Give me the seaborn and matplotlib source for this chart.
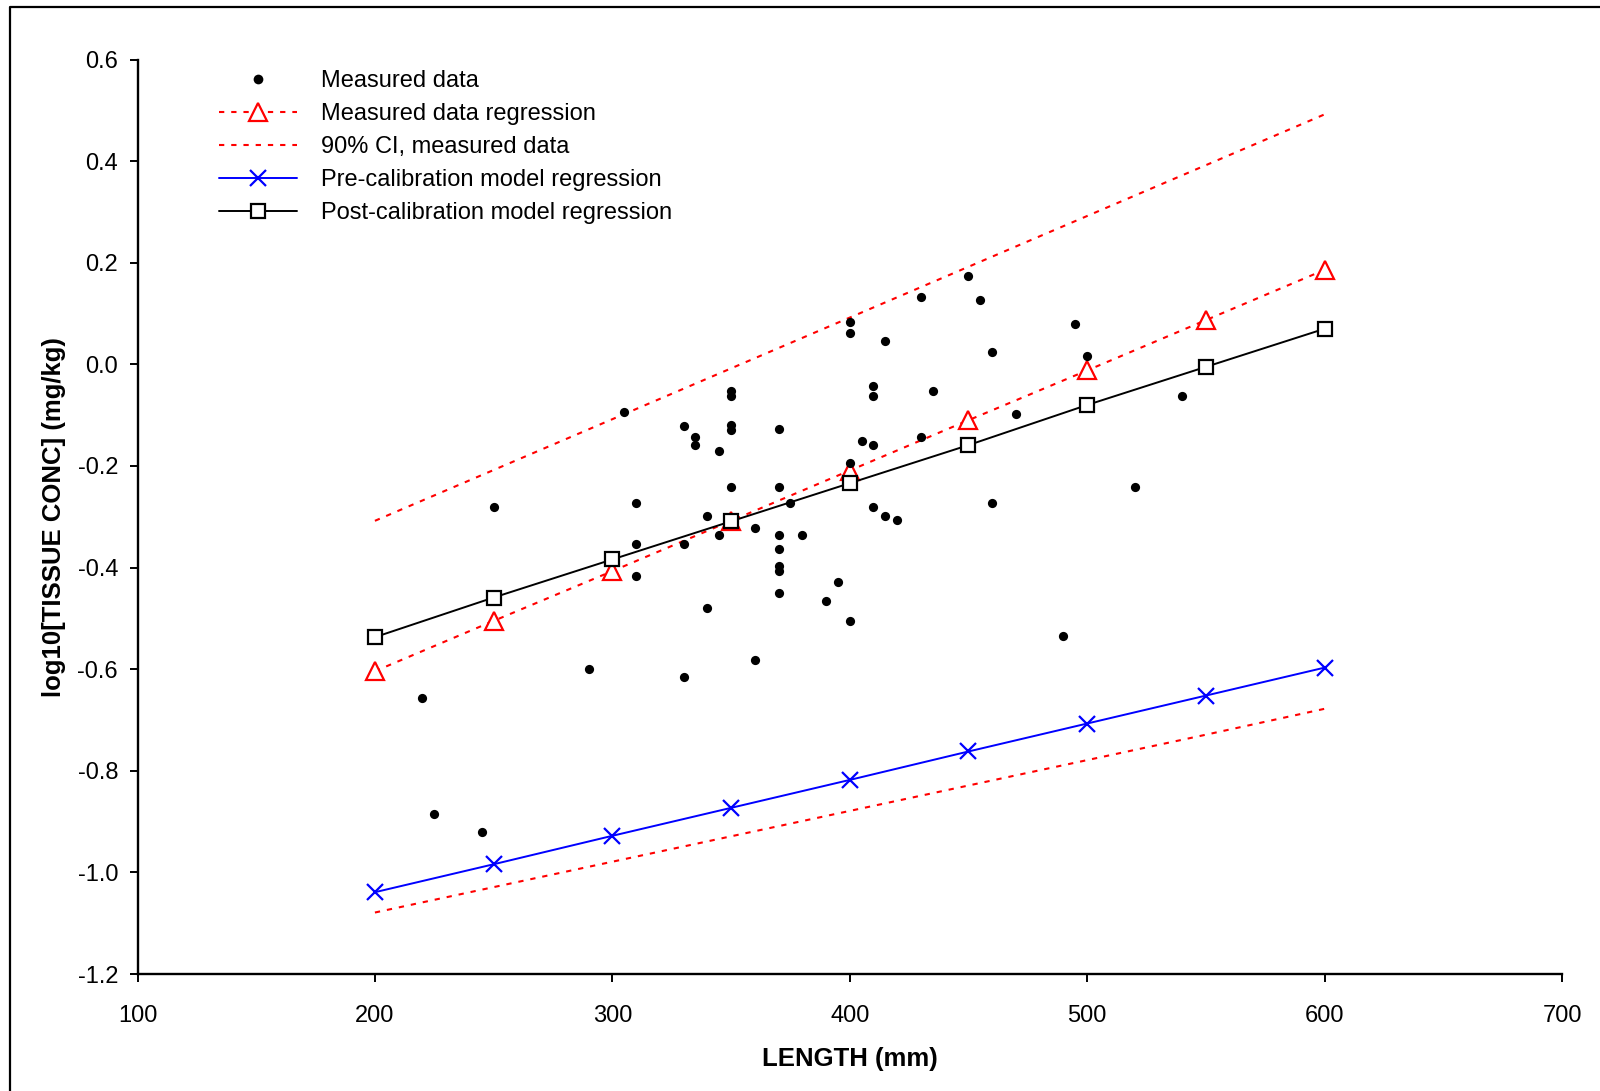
import matplotlib
matplotlib.use("Agg")
import matplotlib.pyplot as plt
from matplotlib.lines import Line2D
import seaborn as sns
import pandas as pd

# ---- data ----
meas_x = [220, 225, 245, 250, 290, 305, 310, 310, 310, 330, 330, 330, 335, 335,
          340, 340, 345, 345, 350, 350, 350, 350, 350, 360, 360, 370, 370, 370,
          370, 370, 370, 370, 375, 380, 390, 395, 400, 400, 400, 400, 405, 410,
          410, 410, 410, 415, 415, 420, 430, 430, 435, 450, 455, 460, 460, 470,
          490, 495, 500, 520, 540]
meas_y = [-0.656, -0.886, -0.920, -0.281, -0.600, -0.094, -0.272, -0.354, -0.417,
          -0.121, -0.354, -0.615, -0.144, -0.158, -0.299, -0.479, -0.171, -0.335,
          -0.052, -0.062, -0.120, -0.129, -0.242, -0.323, -0.581, -0.128, -0.242,
          -0.335, -0.363, -0.396, -0.407, -0.450, -0.272, -0.335, -0.465, -0.429,
          0.084, 0.061, -0.195, -0.505, -0.151, -0.043, -0.062, -0.158, -0.280,
          0.046, -0.299, -0.307, 0.132, -0.144, -0.052, 0.174, 0.127, 0.024,
          -0.272, -0.097, -0.535, 0.079, 0.016, -0.241, -0.062]

reg_x = [200, 250, 300, 350, 400, 450, 500, 550, 600]
meas_reg = [-0.604, -0.505, -0.407, -0.308, -0.209, -0.110, -0.012, 0.087, 0.186]
ci_upper = [-0.308, -0.208, -0.108, -0.008, 0.092, 0.192, 0.292, 0.392, 0.492]
ci_lower = [-1.079, -1.029, -0.979, -0.929, -0.879, -0.829, -0.779, -0.729, -0.678]
pre_cal = [-1.039, -0.984, -0.928, -0.873, -0.818, -0.762, -0.707, -0.652, -0.597]
post_cal = [-0.537, -0.459, -0.384, -0.309, -0.234, -0.159, -0.080, -0.005, 0.070]

x_ticks = [100, 200, 300, 400, 500, 600, 700]
y_ticks = [-1.2, -1.0, -0.8, -0.6, -0.4, -0.2, 0.0, 0.2, 0.4, 0.6]

labels = ["Measured data", "Measured data regression", "90% CI, measured data",
          "Pre-calibration model regression", "Post-calibration model regression"]

# ---- style ----
sns.set_theme(style="white")
plt.rcParams['font.family'] = ['Liberation Sans', 'DejaVu Sans']
plt.rcParams['axes.unicode_minus'] = False
plt.rcParams['lines.scale_dashes'] = False
for k in ['text.color', 'axes.labelcolor', 'xtick.color', 'ytick.color', 'axes.edgecolor']:
    plt.rcParams[k] = 'black'

fig = plt.figure(figsize=(16, 10.91), dpi=100)
ax = fig.add_axes([137.5 / 1600, 1 - 974 / 1091, (1562 - 137.5) / 1600, (974 - 59.5) / 1091])

dash = (0, (3.8, 5.0))
lw = 1.4

df_meas = pd.DataFrame({"x": meas_x, "y": meas_y})
sns.scatterplot(data=df_meas, x="x", y="y", ax=ax, color="black", s=44,
                linewidth=0, zorder=5)

sns.lineplot(x=reg_x, y=ci_upper, ax=ax, color="red", linestyle=dash, lw=1.5, zorder=2)
sns.lineplot(x=reg_x, y=ci_lower, ax=ax, color="red", linestyle=dash, lw=1.5, zorder=2)
sns.lineplot(x=reg_x, y=meas_reg, ax=ax, color="red", linestyle=dash, lw=1.5,
             marker="^", markersize=12.5, markerfacecolor="white",
             markeredgecolor="red", markeredgewidth=1.6, zorder=3)
sns.lineplot(x=reg_x, y=pre_cal, ax=ax, color="blue", lw=lw,
             marker="x", markersize=11, markeredgecolor="blue",
             markeredgewidth=1.6, zorder=3)
sns.lineplot(x=reg_x, y=post_cal, ax=ax, color="black", lw=lw,
             marker="s", markersize=10.5, markerfacecolor="white",
             markeredgecolor="black", markeredgewidth=1.6, zorder=4)

ax.set_xlim(100, 700)
ax.set_ylim(-1.2, 0.6)
ax.set_xticks(x_ticks)
ax.set_xticklabels([str(v) for v in x_ticks])
ax.set_yticks(y_ticks)
ax.set_yticklabels([f"{v:.1f}" for v in y_ticks])
for s in ["top", "right"]:
    ax.spines[s].set_visible(False)
for s in ["left", "bottom"]:
    ax.spines[s].set_color("black")
    ax.spines[s].set_linewidth(1.7)
ax.tick_params(axis="both", which="major", direction="out", length=6,
               width=1.4, color="black", labelsize=17, labelcolor="black",
               left=True, bottom=True)
ax.tick_params(axis="x", pad=16)
ax.tick_params(axis="y", pad=8)

ax.set_xlabel("LENGTH (mm)", fontsize=18.5, fontweight="bold", labelpad=15, color="black")
ax.set_ylabel("log10[TISSUE CONC] (mg/kg)", fontsize=18.5, fontweight="bold",
              labelpad=8, color="black")

handles = [
    Line2D([], [], linestyle="none", marker="o", markersize=7, color="black", markeredgewidth=0),
    Line2D([], [], color="red", linestyle=dash, lw=1.5, marker="^", markersize=12.5,
           markerfacecolor="white", markeredgecolor="red", markeredgewidth=1.6),
    Line2D([], [], color="red", linestyle=dash, lw=1.5),
    Line2D([], [], color="blue", lw=lw, marker="x", markersize=11,
           markeredgecolor="blue", markeredgewidth=1.6),
    Line2D([], [], color="black", lw=lw, marker="s", markersize=10.5,
           markerfacecolor="white", markeredgecolor="black", markeredgewidth=1.6),
]
leg = fig.legend(handles, labels, loc="upper left",
                 bbox_to_anchor=(219 / 1600, 1 - 70 / 1091),
                 frameon=False, fontsize=17, numpoints=1,
                 handlelength=3.3, handletextpad=1.0, labelspacing=0.47,
                 borderpad=0, borderaxespad=0)
for t in leg.get_texts():
    t.set_color("black")

# outer frame (left and top edges visible)
fig.add_artist(Line2D([10 / 1600, 10 / 1600, 1.02], [-0.02, 1 - 7 / 1091, 1 - 7 / 1091],
                      transform=fig.transFigure, color="black", lw=1.6))

fig.savefig("out.png", dpi=100)
